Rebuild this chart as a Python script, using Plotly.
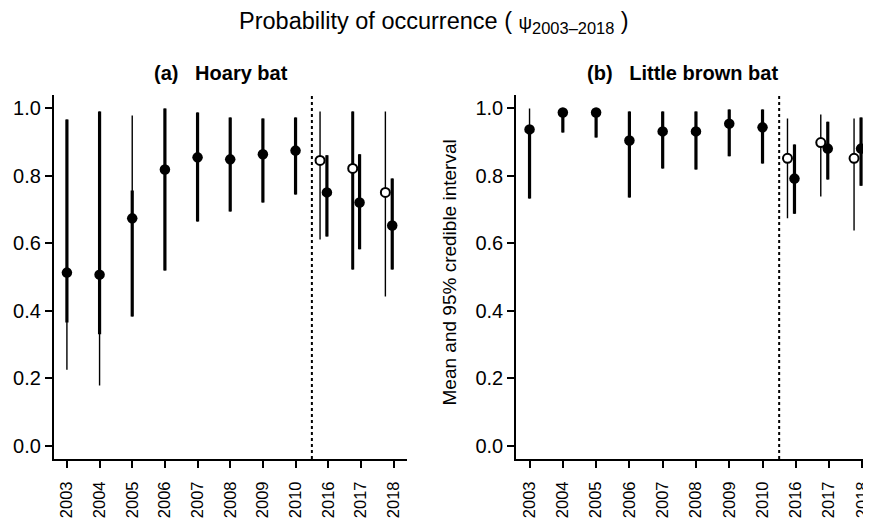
import plotly.graph_objects as go

# ---------------- data ----------------
years = ["2003", "2004", "2005", "2006", "2007", "2008", "2009", "2010", "2016", "2017", "2018"]
later_years = ["2016", "2017", "2018"]

# (a) Hoary bat - filled symbols (all years)
hoary_mean = [0.513, 0.507, 0.674, 0.819, 0.855, 0.849, 0.864, 0.875, 0.751, 0.721, 0.653]
hoary_lo95 = [0.225, 0.178, 0.383, 0.519, 0.665, 0.694, 0.721, 0.745, 0.620, 0.582, 0.522]
hoary_hi95 = [0.967, 0.991, 0.979, 1.000, 0.988, 0.973, 0.970, 0.973, 0.861, 0.864, 0.792]
hoary_lo_in = [0.365, 0.330, 0.383, 0.519, 0.665, 0.694, 0.721, 0.745, 0.620, 0.582, 0.522]
hoary_hi_in = [0.967, 0.991, 0.757, 1.000, 0.988, 0.973, 0.970, 0.973, 0.861, 0.864, 0.792]
# (a) Hoary bat - open symbols (2016-2018)
hoary_open_mean = [0.846, 0.822, 0.751]
hoary_open_lo95 = [0.611, 0.522, 0.442]
hoary_open_hi95 = [0.991, 0.991, 0.991]
hoary_open_lo_in = [None, 0.522, None]
hoary_open_hi_in = [None, 0.991, None]

# (b) Little brown bat - filled symbols
lbb_mean = [0.938, 0.988, 0.988, 0.905, 0.932, 0.932, 0.955, 0.944, 0.792, 0.881, 0.881]
lbb_lo95 = [0.733, 0.929, 0.914, 0.736, 0.822, 0.819, 0.858, 0.837, 0.688, 0.789, 0.771]
lbb_hi95 = [1.000, 0.999, 0.999, 0.991, 0.991, 0.991, 0.997, 0.997, 0.893, 0.961, 0.973]
lbb_lo_in = [0.733, 0.929, 0.914, 0.736, 0.822, 0.819, 0.858, 0.837, 0.688, 0.789, 0.771]
lbb_hi_in = [0.950, 0.999, 0.999, 0.991, 0.991, 0.991, 0.997, 0.997, 0.893, 0.961, 0.973]
# (b) Little brown bat - open symbols
lbb_open_mean = [0.852, 0.899, 0.852]
lbb_open_lo95 = [0.674, 0.739, 0.638]
lbb_open_hi95 = [0.970, 0.982, 0.970]
lbb_open_lo_in = [None, None, None]
lbb_open_hi_in = [None, None, None]

yticks = [0.0, 0.2, 0.4, 0.6, 0.8, 1.0]
ytick_text = ["0.0", "0.2", "0.4", "0.6", "0.8", "1.0"]

# ---------------- layout constants ----------------
OFF = 8                      # page body margin in the browser
W, H = 871 - OFF, 521 - OFF  # figure size so that it fills the window
FONT = "Liberation Sans, Arial, Helvetica, sans-serif"
FILLED_SHIFT = -0.04
OPEN_SHIFT = -0.25
XR = [0.6, 11.4]
YR = [-0.04, 1.04]


def px(x):
    return (x - OFF) / W


def py(y):
    return 1 - (y - OFF) / H


pos = {y: i + 1 for i, y in enumerate(years)}
filled_x = [pos[y] + (FILLED_SHIFT if y in later_years else 0) for y in years]
open_x = [pos[y] + OPEN_SHIFT for y in later_years]
sep_x = (pos["2010"] + pos["2016"]) / 2


def segs(xs, lo, hi):
    sx, sy = [], []
    for x, a, b in zip(xs, lo, hi):
        if a is None or b is None:
            continue
        sx += [x, x, None]
        sy += [a, b, None]
    return sx, sy


fig = go.Figure()


def add_panel(xa, ya, mean, lo, hi, lo_in, hi_in, omean, olo, ohi, olo_in, ohi_in):
    for xs, l, h, w in [
        (filled_x, lo, hi, 1.4),
        (open_x, olo, ohi, 1.4),
        (filled_x, lo_in, hi_in, 3.2),
        (open_x, olo_in, ohi_in, 3.0),
    ]:
        sx, sy = segs(xs, l, h)
        fig.add_trace(go.Scatter(x=sx, y=sy, mode="lines", xaxis=xa, yaxis=ya,
                                 line=dict(color="black", width=w), showlegend=False,
                                 hoverinfo="skip"))
    fig.add_trace(go.Scatter(x=open_x, y=omean, mode="markers", xaxis=xa, yaxis=ya,
                             marker=dict(symbol="circle", size=9, color="white",
                                         line=dict(color="black", width=2)),
                             showlegend=False))
    fig.add_trace(go.Scatter(x=filled_x, y=mean, mode="markers", xaxis=xa, yaxis=ya,
                             marker=dict(symbol="circle", size=10.5, color="black",
                                         line=dict(color="black", width=0)),
                             showlegend=False))


add_panel("x", "y", hoary_mean, hoary_lo95, hoary_hi95, hoary_lo_in, hoary_hi_in,
          hoary_open_mean, hoary_open_lo95, hoary_open_hi95, hoary_open_lo_in, hoary_open_hi_in)
add_panel("x2", "y2", lbb_mean, lbb_lo95, lbb_hi95, lbb_lo_in, lbb_hi_in,
          lbb_open_mean, lbb_open_lo95, lbb_open_hi95, lbb_open_lo_in, lbb_open_hi_in)

# separator dotted lines
for xr, yr in [("x", "y"), ("x2", "y2")]:
    fig.add_shape(type="line", xref=xr, yref=yr, x0=sep_x, x1=sep_x, y0=YR[0], y1=YR[1],
                  line=dict(color="black", width=2, dash="dot"))

xa_common = dict(tickmode="array", tickvals=list(pos.values()), ticktext=years,
                 tickangle=-90, showline=True, linecolor="black", linewidth=1.8,
                 ticks="outside", ticklen=7, tickwidth=1.5, tickcolor="black",
                 ticklabelstandoff=7, ticklabeloverflow="allow",
                 showgrid=False, zeroline=False, tickfont=dict(size=16.5, color="black", family=FONT),
                 fixedrange=True)
ya_common = dict(tickmode="array", tickvals=yticks, ticktext=ytick_text, range=YR,
                 showline=True, linecolor="black", linewidth=2,
                 ticks="outside", ticklen=7, tickwidth=1.5, tickcolor="black",
                 ticklabeloverflow="allow",
                 showgrid=False, zeroline=False, tickfont=dict(size=20, color="black", family=FONT),
                 fixedrange=True)

ydom = [py(459), py(95)]
b_left = 518
b_scale = 33.4  # px per category step in panel (b)
b_range = [XR[0], XR[0] + (871 - b_left) / b_scale]

fig.update_layout(
    width=W, height=H,
    margin=dict(l=0, r=0, t=0, b=0),
    paper_bgcolor="white", plot_bgcolor="white",
    font=dict(family=FONT, color="black"),
    xaxis=dict(domain=[px(54), px(408)], range=XR, anchor="y", **xa_common),
    yaxis=dict(domain=ydom, anchor="x", **ya_common),
    xaxis2=dict(domain=[px(b_left), 1.0], range=b_range, anchor="y2", **xa_common),
    yaxis2=dict(domain=ydom, anchor="x2", **ya_common),
    annotations=[
        dict(text="Probability of occurrence ( <span style='font-size:19px'>ψ</span><sub>2003–2018</sub> )",
             x=px(435), y=py(6), xref="paper", yref="paper", xanchor="center", yanchor="top",
             showarrow=False, font=dict(size=23.5, color="black", family=FONT)),
        dict(text="<b>(a)\u00a0\u00a0\u00a0Hoary bat</b>", x=px(153), y=py(73),
             xref="paper", yref="paper", xanchor="left", yanchor="middle",
             showarrow=False, font=dict(size=20, color="black", family=FONT)),
        dict(text="<b>(b)\u00a0\u00a0\u00a0Little brown bat</b>", x=px(587), y=py(73),
             xref="paper", yref="paper", xanchor="left", yanchor="middle",
             showarrow=False, font=dict(size=20, color="black", family=FONT)),
        dict(text="Mean and 95% credible interval", x=px(451), y=py(272),
             xref="paper", yref="paper", xanchor="center", yanchor="middle", textangle=-90,
             showarrow=False, font=dict(size=19, color="black", family=FONT)),
    ],
)

fig.write_html("out.html")
